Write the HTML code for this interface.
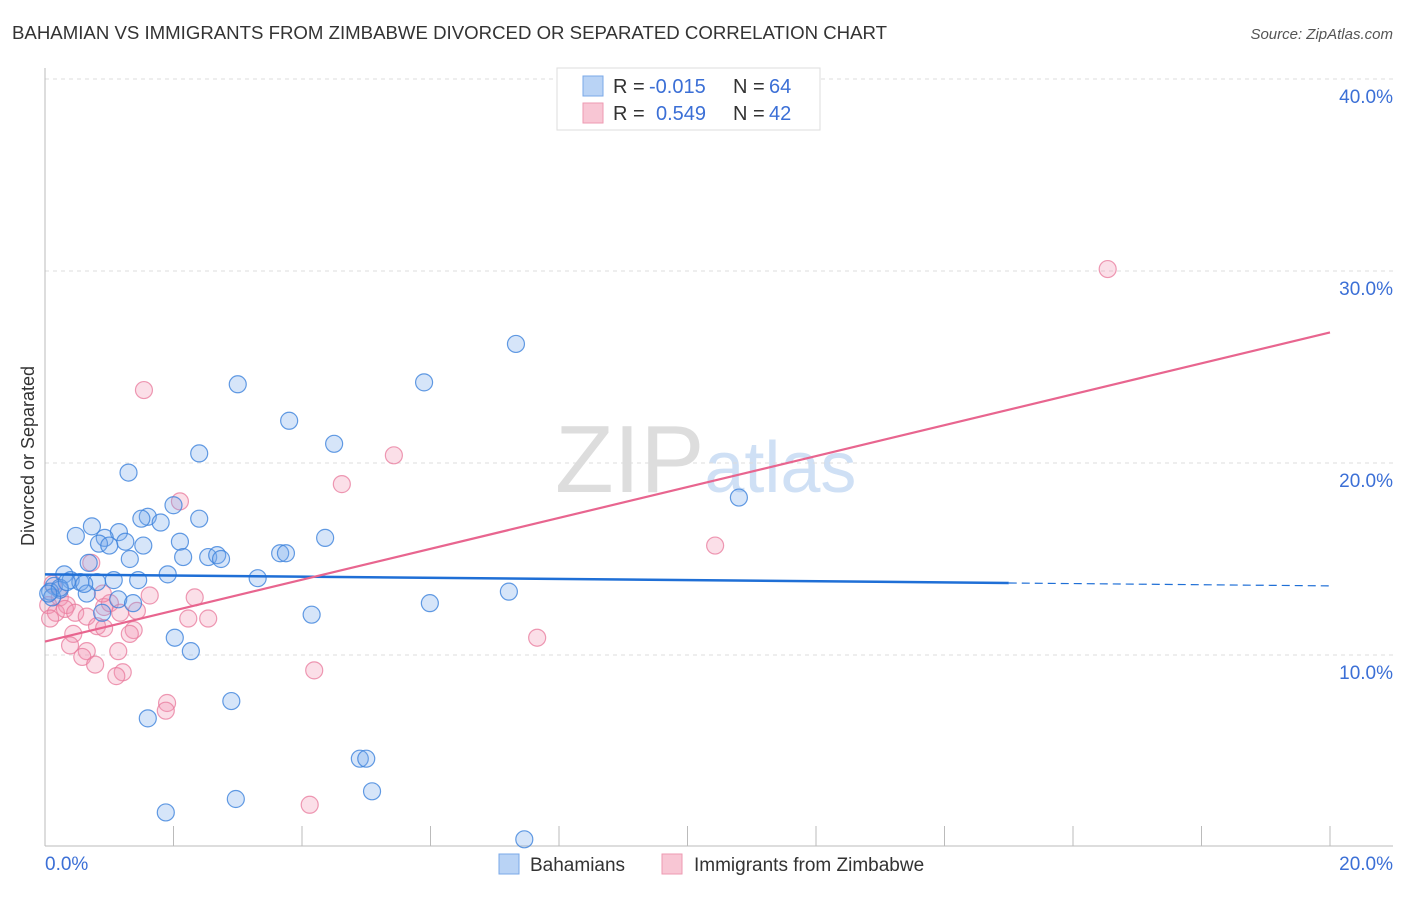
<!DOCTYPE html>
<html><head><meta charset="utf-8"><style>
body{margin:0;background:#fff;font-family:"Liberation Sans",sans-serif}
svg text{font-family:"Liberation Sans",sans-serif}
</style></head><body>
<svg id="c" width="1406" height="892">
<text x="12" y="39" font-size="18" fill="#333" textLength="875" lengthAdjust="spacingAndGlyphs">BAHAMIAN VS IMMIGRANTS FROM ZIMBABWE DIVORCED OR SEPARATED CORRELATION CHART</text>
<text x="1393" y="39" font-size="15" fill="#555" text-anchor="end" font-style="italic">Source: ZipAtlas.com</text>
<text transform="translate(34,456) rotate(-90)" font-size="18" fill="#333" text-anchor="middle">Divorced or Separated</text>
<text x="555" y="492" font-size="96" fill="#ddd" font-family="Liberation Serif">ZIP<tspan fill="#cfe0f5" font-family="Liberation Sans" font-size="72">atlas</tspan></text>
<g id="grid"></g><g id="pts"></g><g id="lines"></g>
<g>
<rect x="557" y="68" width="263" height="62" fill="#fff" stroke="#ddd"/>
<rect x="583" y="76" width="20" height="20" fill="#b9d3f5" stroke="#7aa8e8"/>
<rect x="583" y="103" width="20" height="20" fill="#f8c6d4" stroke="#ee9ab2"/>
<text x="613" y="93" font-size="20" fill="#333">R =</text>
<text x="649" y="93" font-size="20" fill="#3b6fd6">-0.015</text>
<text x="733" y="93" font-size="20" fill="#333">N =</text>
<text x="769" y="93" font-size="20" fill="#3b6fd6">64</text>
<text x="613" y="120" font-size="20" fill="#333">R =</text>
<text x="656" y="120" font-size="20" fill="#3b6fd6">0.549</text>
<text x="733" y="120" font-size="20" fill="#333">N =</text>
<text x="769" y="120" font-size="20" fill="#3b6fd6">42</text>
</g>
<g>
<rect x="499" y="854" width="20" height="20" fill="#b9d3f5" stroke="#7aa8e8"/>
<text x="530" y="871" font-size="19" fill="#333">Bahamians</text>
<rect x="662" y="854" width="20" height="20" fill="#f8c6d4" stroke="#ee9ab2"/>
<text x="694" y="871" font-size="19" fill="#333">Immigrants from Zimbabwe</text>
</g>
</svg>
<script>
const yTicks=[10,20,30,40];
const xTickLabels=["0.0%","20.0%"];
const blueX=[7.33,5.9,3.0,3.8,4.5,2.4,1.3,10.8,2.0,2.4,1.6,1.5,1.8,0.73,0.48,1.15,0.93,1.25,0.84,1.0,1.53,2.1,1.32,2.15,2.54,2.68,2.74,3.66,3.75,4.36,0.68,0.3,0.4,0.55,0.81,1.07,1.45,1.91,3.31,0.14,0.23,0.08,0.65,0.11,1.14,1.37,0.89,4.15,5.99,7.22,2.02,2.27,2.9,1.6,4.9,5.0,5.09,2.97,1.88,7.46,0.23,0.34,0.61,0.05];
const blueY=[26.2,24.2,24.1,22.2,21.0,20.5,19.5,18.2,17.8,17.1,17.2,17.1,16.9,16.7,16.2,16.4,16.1,15.9,15.8,15.7,15.7,15.9,15.0,15.1,15.1,15.2,15.0,15.3,15.3,16.1,14.8,14.2,13.9,13.8,13.8,13.9,13.9,14.2,14.0,13.6,13.4,13.3,13.2,13.0,12.9,12.7,12.2,12.1,12.7,13.3,10.9,10.2,7.6,6.7,4.6,4.6,2.9,2.5,1.8,0.4,13.5,13.8,13.7,13.2];
const pinkX=[16.54,1.54,5.43,4.62,2.1,10.43,0.72,0.12,0.23,0.34,0.05,0.17,0.31,0.08,0.47,0.65,0.92,1.01,1.17,1.43,1.63,2.33,0.90,2.54,2.23,0.81,0.44,0.92,1.38,1.32,0.39,0.65,0.58,1.14,0.78,1.21,1.11,4.19,7.66,1.9,1.88,4.12];
const pinkY=[30.1,23.8,20.4,18.9,18.0,15.7,14.8,13.7,13.0,12.6,12.6,12.2,12.4,11.9,12.2,12.0,12.5,12.7,12.2,12.3,13.1,13.0,13.2,11.9,11.9,11.5,11.1,11.4,11.3,11.1,10.5,10.2,9.9,10.2,9.5,9.1,8.9,9.2,10.9,7.5,7.1,2.2];
const blueLine=[14.2,13.6];
const pinkLine=[10.7,26.8];
const X=v=>45+v/20*1285, Y=v=>847-v*19.2;
const NS="http://www.w3.org/2000/svg";
function mk(p,t,a){const e=document.createElementNS(NS,t);for(const k in a)e.setAttribute(k,a[k]);p.appendChild(e);return e;}
const grid=document.getElementById('grid');
for(const t of yTicks){
 const l=mk(grid,'line',{x1:45,x2:1393,y1:Y(t),y2:Y(t),stroke:'#ddd','stroke-dasharray':'4 4'});
 
 
 const tx=mk(grid,'text',{x:1393,y:Y(t)+24,'font-size':19,fill:'#3b6fd6','text-anchor':'end'});
 tx.textContent=t.toFixed(1)+'%';
 
 
}
const ax=mk(grid,'line',{x1:45,x2:45,y1:68,y2:846,stroke:'#bbb'});


const bx=mk(grid,'line',{x1:45,x2:1393,y1:846,y2:846,stroke:'#bbb'});


for(let i=0;i<=10;i++){const tk=mk(grid,'line',{x1:X(i*2),x2:X(i*2),y1:826,y2:846,stroke:'#bbb'});
 
 }
const xl0=mk(grid,'text',{x:45,y:870,'font-size':19,fill:'#3b6fd6'});xl0.textContent=xTickLabels[0];


const xl1=mk(grid,'text',{x:1393,y:870,'font-size':19,fill:'#3b6fd6','text-anchor':'end'});xl1.textContent=xTickLabels[1];


const pts=document.getElementById('pts');
pinkX.forEach((x,i)=>{const c=mk(pts,'circle',{cx:X(x),cy:Y(pinkY[i]),r:8.5,fill:'rgba(242,150,178,0.3)',stroke:'rgba(232,120,155,0.75)','stroke-width':1.2});
 
 });
blueX.forEach((x,i)=>{const c=mk(pts,'circle',{cx:X(x),cy:Y(blueY[i]),r:8.5,fill:'rgba(120,170,235,0.3)',stroke:'rgba(60,130,220,0.8)','stroke-width':1.2});
 
 });
const lines=document.getElementById('lines');
const bAt=x=>blueLine[0]+(blueLine[1]-blueLine[0])*x/20;
const b1=mk(lines,'line',{x1:X(0),y1:Y(bAt(0)),x2:X(15),y2:Y(bAt(15)),stroke:'#1f6fd6','stroke-width':2.5});


const b2=mk(lines,'line',{x1:X(15),y1:Y(bAt(15)),x2:X(20),y2:Y(bAt(20)),stroke:'#1f6fd6','stroke-width':1.2,'stroke-dasharray':'8 5'});


const p1=mk(lines,'line',{x1:X(0),y1:Y(pinkLine[0]),x2:X(20),y2:Y(pinkLine[1]),stroke:'#e8658f','stroke-width':2.2});


</script>
</body></html>
